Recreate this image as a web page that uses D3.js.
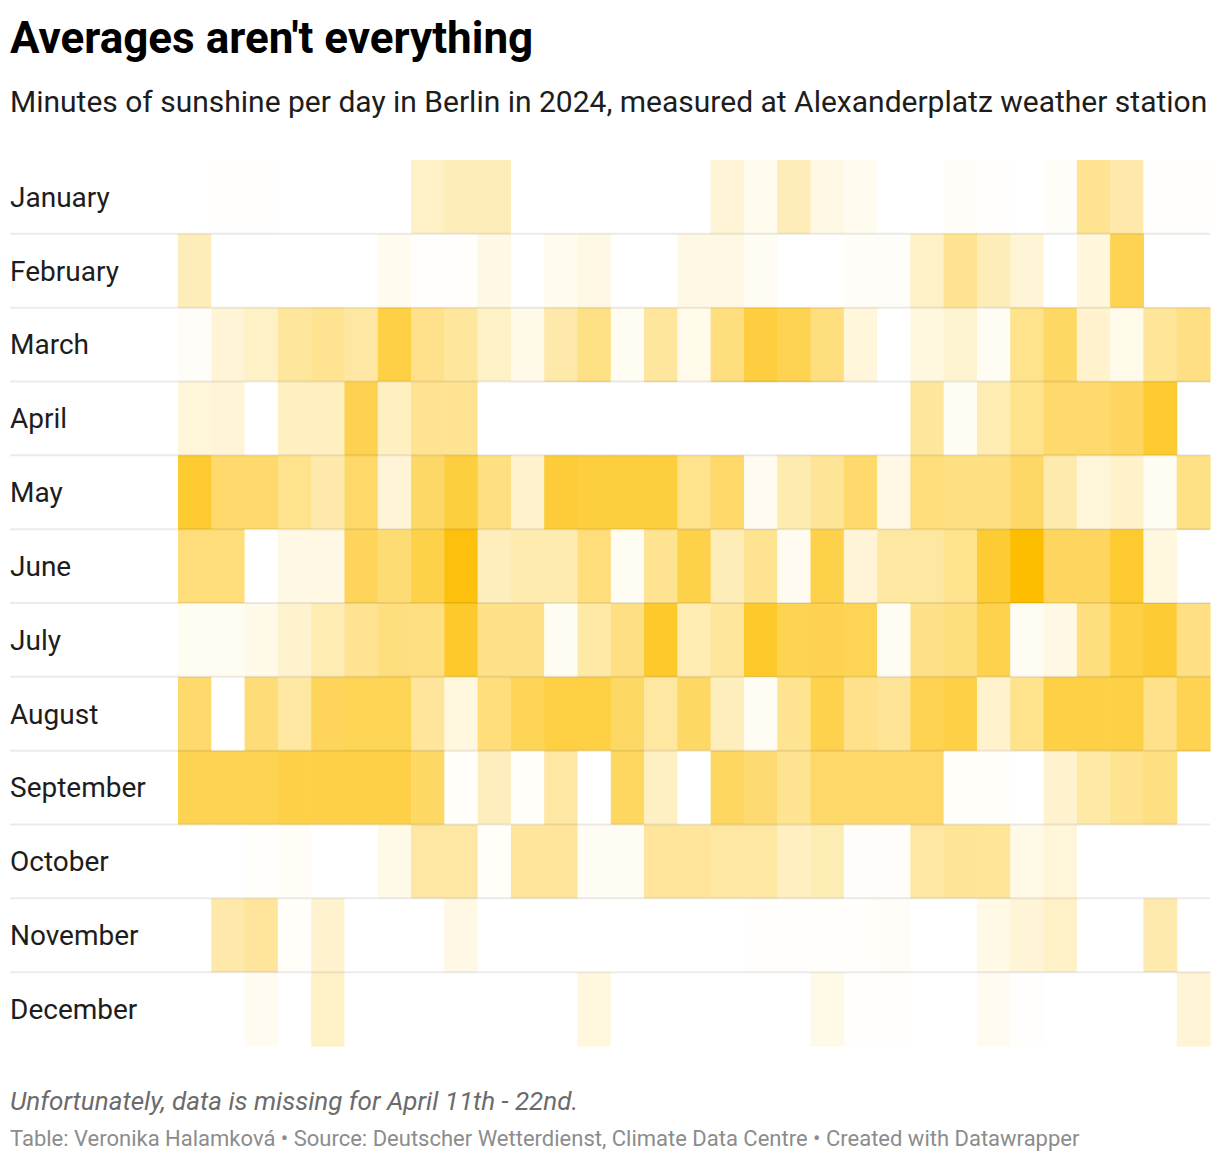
<!DOCTYPE html>
<html>
<head>
<meta charset="utf-8">
<script src="https://cdn.jsdelivr.net/npm/d3@7"></script>
<style>
  body { margin: 0; background: #fff; }
  svg { display: block; font-family: Roboto, sans-serif; }
</style>
</head>
<body>
<div id="chart"></div>
<script>
// month labels and days
const months = ["January", "February", "March", "April", "May", "June",
  "July", "August", "September", "October", "November", "December"];
const days = d3.range(1, 32);

// minutes of sunshine per day (null = no such day / missing)
const january = [0,8,12,0,0,0,0,200,250,250,0,0,0,0,0,0,148,60,250,95,60,0,0,25,12,0,25,390,300,12,12];
const february = [250,0,0,0,0,0,60,12,12,95,0,60,95,0,0,95,95,39,0,0,25,25,200,390,250,148,0,127,610,null,null];
const march = [25,148,200,345,390,327,655,414,345,200,81,300,430,46,345,74,454,674,610,454,127,0,116,158,39,406,546,179,74,363,438];
const april = [137,148,0,220,220,619,220,390,390,0,null,null,null,null,null,null,null,null,null,null,null,null,345,46,270,406,518,518,565,731,null];
const may = [731,518,518,406,300,527,148,537,684,446,179,703,684,684,684,406,527,53,280,372,518,95,470,446,446,537,290,137,190,46,430];
const june = [470,470,0,95,95,583,489,637,855,230,280,280,470,46,390,637,250,390,53,637,148,336,336,406,712,900,565,565,731,116,null];
const july = [46,46,81,169,270,381,454,446,750,422,422,46,309,438,750,270,345,750,610,619,592,39,422,454,628,39,95,454,655,712,438];
const august = [518,0,480,336,583,601,601,354,116,470,592,665,665,546,336,546,230,39,390,628,414,372,610,655,179,406,655,655,655,414,610];
const september = [610,610,610,646,646,646,646,546,20,230,20,327,0,556,210,0,556,499,390,527,527,527,527,20,20,0,169,309,390,446,null];
const october = [0,0,18,32,0,0,81,327,327,20,354,354,39,39,354,354,336,336,220,260,22,22,336,372,363,81,137,0,0,0,0];
const november = [0,300,354,20,169,0,0,0,95,0,0,0,0,0,0,0,0,10,12,15,15,25,0,0,88,148,200,0,0,290,null];
const december = [0,0,53,0,200,0,0,0,0,0,0,0,116,0,0,0,0,0,0,81,10,8,0,0,53,8,0,0,0,0,148];

const series = [january, february, march, april, may, june,
  july, august, september, october, november, december];

const width = 1220, height = 1162;
const margins = {top: 160, right: 10, bottom: 116, left: 178};

const svg = d3.select("#chart")
  .append("svg")
    .attr("width", width)
    .attr("height", height);

/* scales */
const xScale = d3.scaleBand()
  .domain(days)
  .range([margins.left, width - margins.right]);

const yScale = d3.scaleBand()
  .domain(months)
  .range([margins.top, height - margins.bottom]);

const color = d3.scaleLinear()
  .domain([0, 900])
  .range(["#ffffff", "#fdbe00"]);

/* flatten to cells */
const cells = [];
months.forEach((m, i) => {
  series[i].forEach((v, j) => {
    if (v !== null) cells.push({month: m, day: days[j], value: v});
  });
});

svg.append("g")
  .selectAll("rect")
  .data(cells)
  .join("rect")
    .attr("x", d => xScale(d.day))
    .attr("y", d => yScale(d.month))
    .attr("width", xScale.bandwidth() + 0.6)
    .attr("height", yScale.bandwidth() + 0.6)
    .attr("fill", d => color(d.value));

// row separators (above every row but the first)
svg.append("g")
  .selectAll("line")
  .data(months.slice(1))
  .join("line")
    .attr("x1", 10)
    .attr("x2", width - margins.right)
    .attr("y1", d => yScale(d))
    .attr("y2", d => yScale(d))
    .style("stroke", "rgba(0,0,0,0.08)")
    .style("stroke-width", 2);

// month labels
svg.append("g")
  .selectAll("text")
  .data(months)
  .join("text")
    .attr("x", 10)
    .attr("y", d => yScale(d) + yScale.bandwidth() / 2)
    .attr("dy", "0.35em")
    .style("font-size", "28px")
    .style("fill", "#1d1d1d")
    .text(d => d);

/* title, subtitle, notes */
svg.append("text")
  .attr("x", 10).attr("y", 53)
  .style("font-size", "44px")
  .style("font-weight", 700)
  .style("fill", "#000")
  .text("Averages aren't everything");

svg.append("text")
  .attr("x", 10).attr("y", 112)
  .style("font-size", "30px")
  .style("fill", "#1d1d1d")
  .text("Minutes of sunshine per day in Berlin in 2024, measured at Alexanderplatz weather station");

svg.append("text")
  .attr("x", 10).attr("y", 1110)
  .style("font-size", "26px")
  .style("font-style", "italic")
  .style("fill", "#6b6b6b")
  .text("Unfortunately, data is missing for April 11th - 22nd.");

svg.append("text")
  .attr("x", 10).attr("y", 1146)
  .style("font-size", "22px")
  .style("fill", "#8c8c8c")
  .text("Table: Veronika Halamková • Source: Deutscher Wetterdienst, Climate Data Centre • Created with Datawrapper");
</script>
</body>
</html>
